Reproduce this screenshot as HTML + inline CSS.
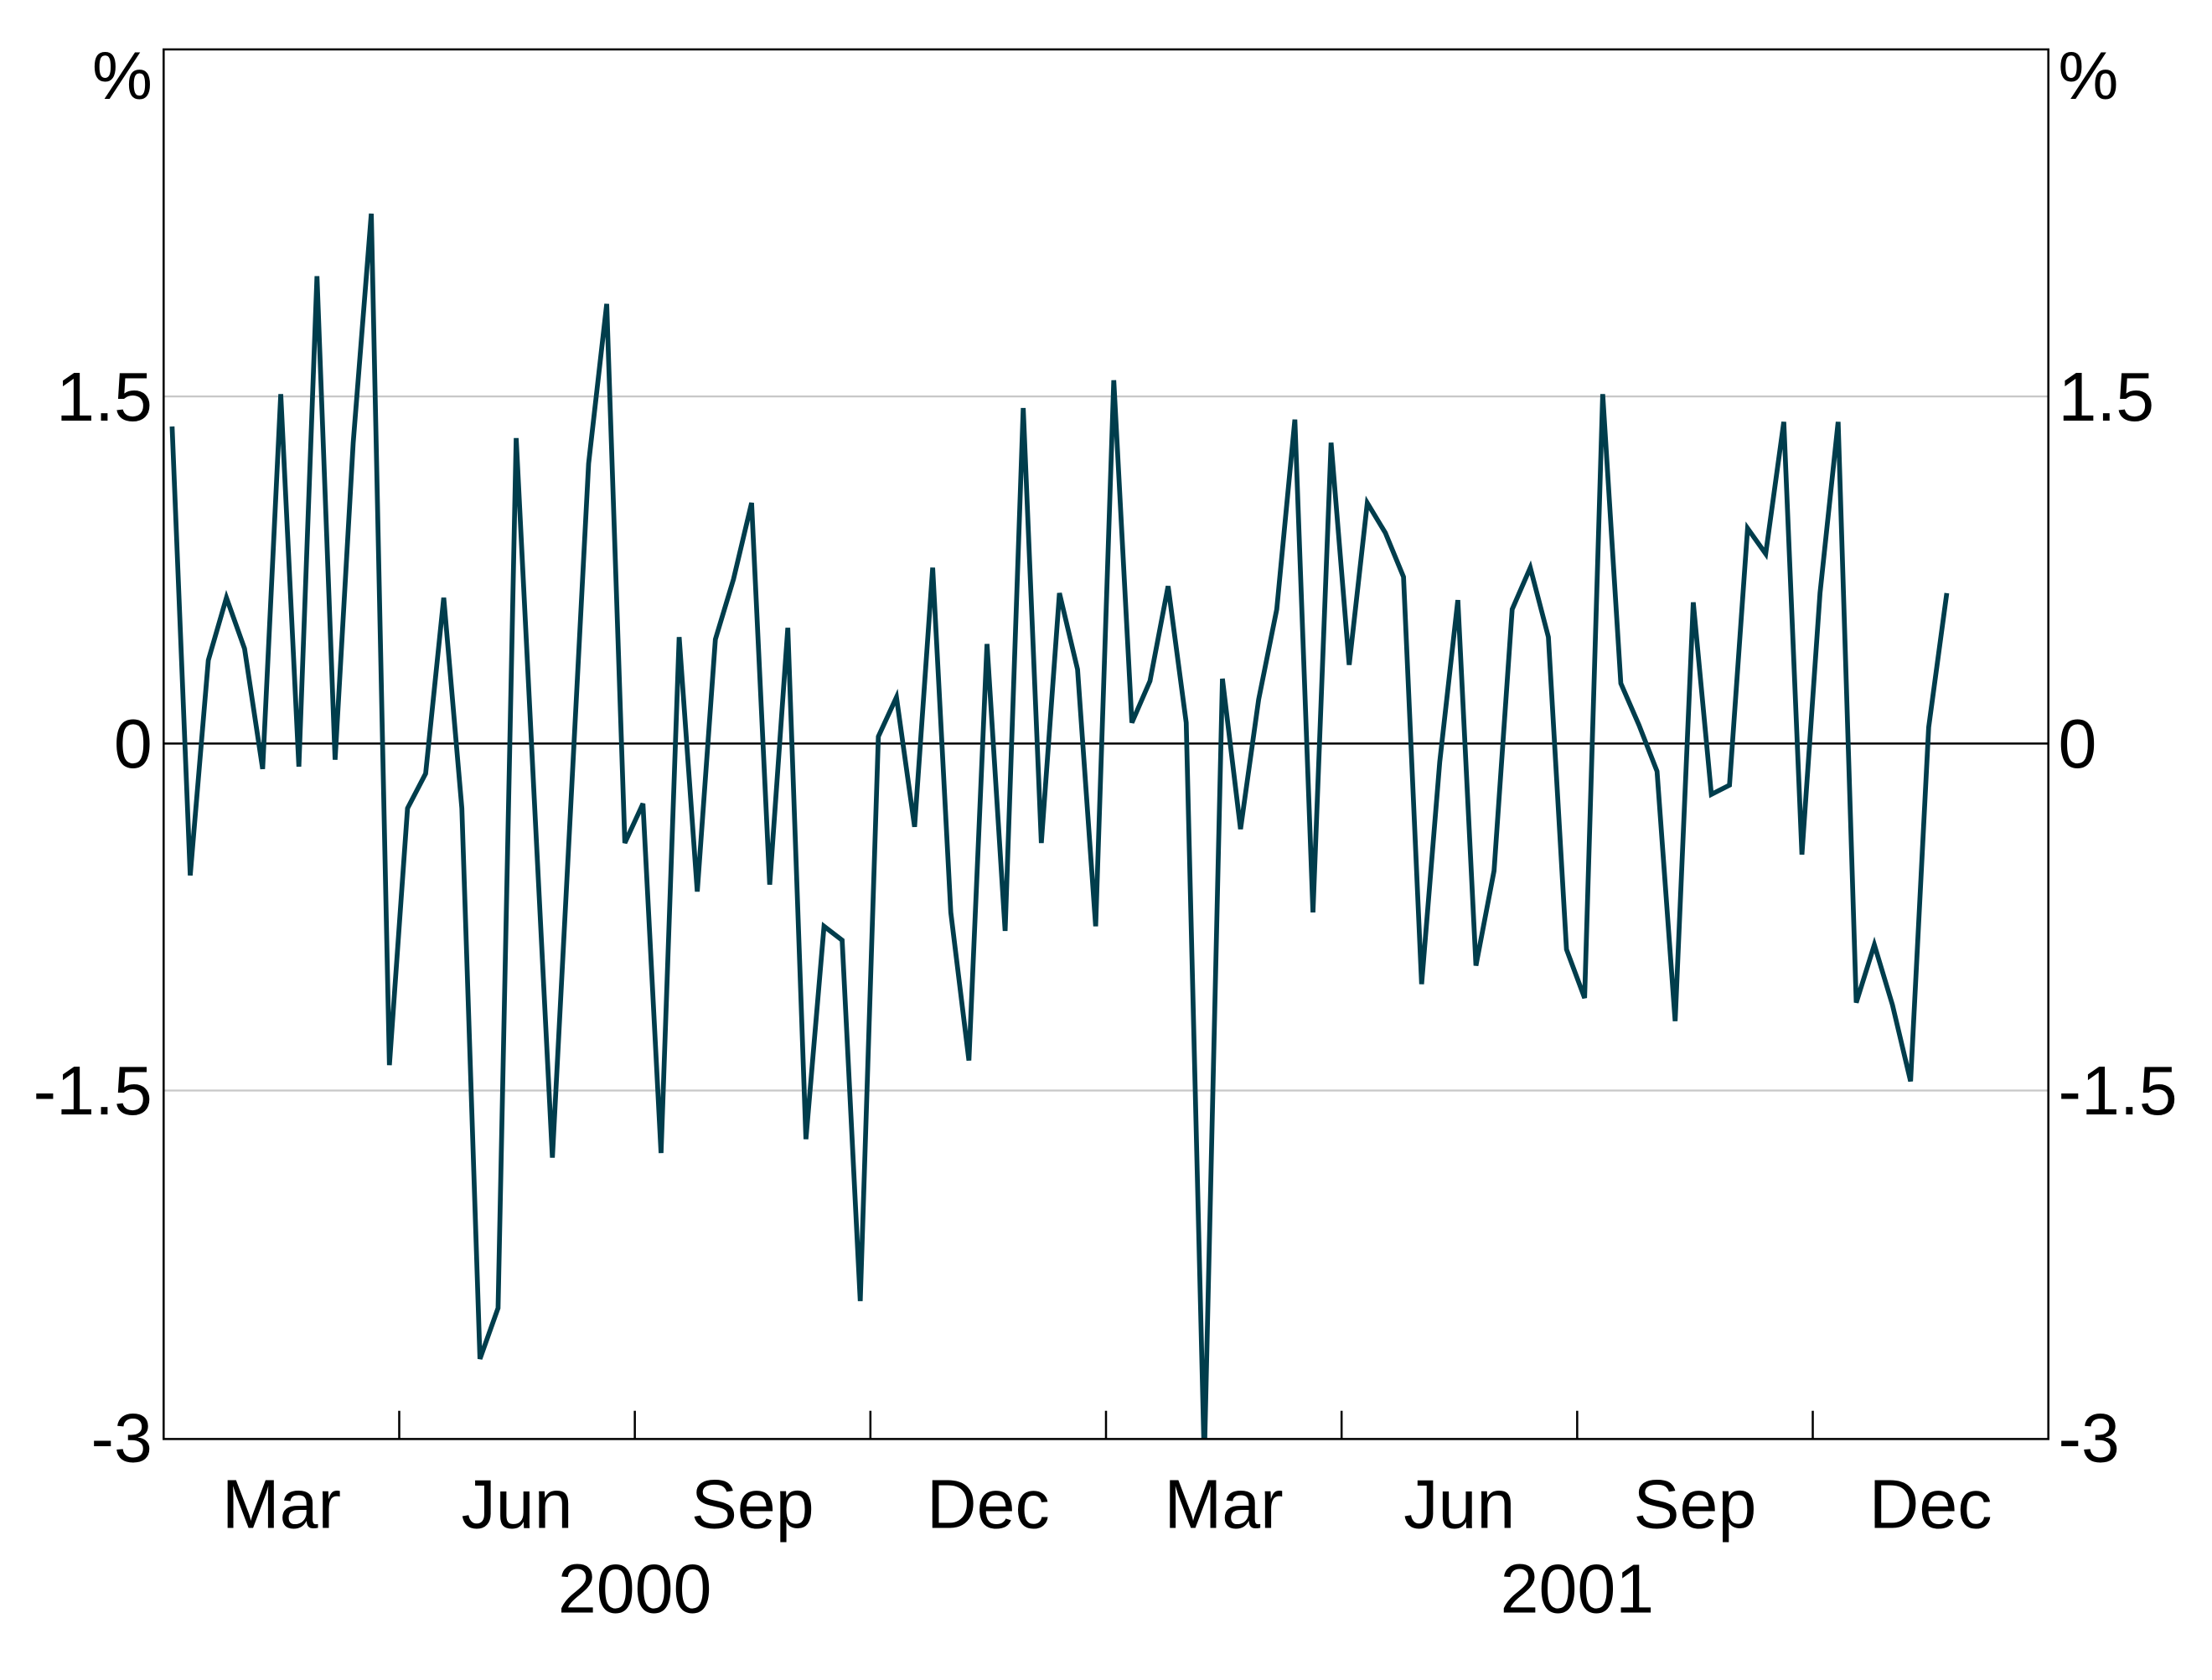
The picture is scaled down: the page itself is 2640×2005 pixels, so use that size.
<!DOCTYPE html>
<html><head><meta charset="utf-8"><style>
html,body{margin:0;padding:0;background:#fff}
svg{display:block}
text{font-family:"Liberation Sans",sans-serif;fill:#000}
</style></head><body>
<svg id="chart" width="2640" height="2005" viewBox="0 0 1568 1190.8" xmlns="http://www.w3.org/2000/svg">
<rect x="0" y="0" width="1568" height="1191" fill="#fff"/>
<g id="grid"></g>
<g id="series"></g>
<g id="axes"></g>
</svg>
<script>
const values = [1.37,-0.57,0.36,0.63,0.41,-0.11,1.51,-0.10,2.02,-0.07,1.30,2.29,-1.39,-0.28,-0.13,0.63,-0.28,-2.66,-2.44,1.32,-0.24,-1.79,-0.29,1.21,1.90,-0.43,-0.26,-1.77,0.46,-0.64,0.45,0.71,1.04,-0.61,0.50,-1.71,-0.79,-0.85,-2.41,0.03,0.20,-0.36,0.76,-0.73,-1.37,0.43,-0.81,1.45,-0.43,0.65,0.32,-0.79,1.57,0.09,0.27,0.68,0.09,-3.1,0.28,-0.37,0.19,0.58,1.40,-0.73,1.30,0.34,1.04,0.91,0.72,-1.04,-0.08,0.62,-0.96,-0.55,0.58,0.76,0.46,-0.89,-1.10,1.51,0.26,0.08,-0.12,-1.20,0.61,-0.22,-0.18,0.93,0.82,1.39,-0.48,0.65,1.39,-1.12,-0.87,-1.13,-1.46,0.07,0.65];
const yTicks = [-3,-1.5,0,1.5];
const yTickLabels = ["-3","-1.5","0","1.5"];
const monthLabels = ["Mar","Jun","Sep","Dec","Mar","Jun","Sep","Dec"];
const yearLabels = ["2000","2001"];

const L=116,R=1452,T=35,B=1020;
const NS="http://www.w3.org/2000/svg";
function y(v){return 527 - v*164;}
function x(i){return 122 + i*(1258/(values.length-1));}
function mk(tag,attrs,parent){const e=document.createElementNS(NS,tag);for(const k in attrs)e.setAttribute(k,attrs[k]);parent.appendChild(e);return e;}
const grid=document.getElementById('grid'),axes=document.getElementById('axes'),series=document.getElementById('series');
yTicks.forEach((v,i)=>{
  if(v!==-3&&v!==0){const g=mk('line',{x1:L,x2:R,y1:y(v),y2:y(v),stroke:'#c8c8c8','stroke-width':1.3},grid);
  
  }
  const t1=mk('text',{x:108,y:y(v)+17,'text-anchor':'end','font-size':49},axes);t1.textContent=yTickLabels[i];
  
  
  const t2=mk('text',{x:1459,y:y(v)+17,'text-anchor':'start','font-size':49},axes);t2.textContent=yTickLabels[i];
  
  
});
const zl=mk('line',{x1:L,x2:R,y1:y(0),y2:y(0),stroke:'#000','stroke-width':1.5},grid);


const pu1=mk('text',{x:108,y:70,'text-anchor':'end','font-size':48},axes);pu1.textContent='%';


const pu2=mk('text',{x:1459,y:70,'text-anchor':'start','font-size':48},axes);pu2.textContent='%';


const q=(R-L)/8;
monthLabels.forEach((m,i)=>{
  if(i<7){const tk=mk('line',{x1:L+q*(i+1),x2:L+q*(i+1),y1:B,y2:B-20,stroke:'#000','stroke-width':1.5},axes);
  
  }
  const t=mk('text',{x:L+q*(i+0.5),y:1083,'text-anchor':'middle','font-size':49},axes);t.textContent=m;
  
  
});
yearLabels.forEach((yr,i)=>{
  const t=mk('text',{x:L+q*(2+4*i),y:1143,'text-anchor':'middle','font-size':49},axes);t.textContent=yr;
  
  
});
const fr=mk('rect',{x:L,y:T,width:R-L,height:B-T,fill:'none',stroke:'#000','stroke-width':1.5},axes);


const cp=mk('clipPath',{id:'clip'},series);mk('rect',{x:L,y:T,width:R-L,height:B-T},cp);
const pts=values.map((v,i)=>x(i).toFixed(2)+','+y(v).toFixed(2)).join(' ');
const pl=mk('polyline',{points:pts,fill:'none',stroke:'#003d4c','stroke-width':3.4,'stroke-linejoin':'miter','clip-path':'url(#clip)'},series);


</script>
</body></html>
